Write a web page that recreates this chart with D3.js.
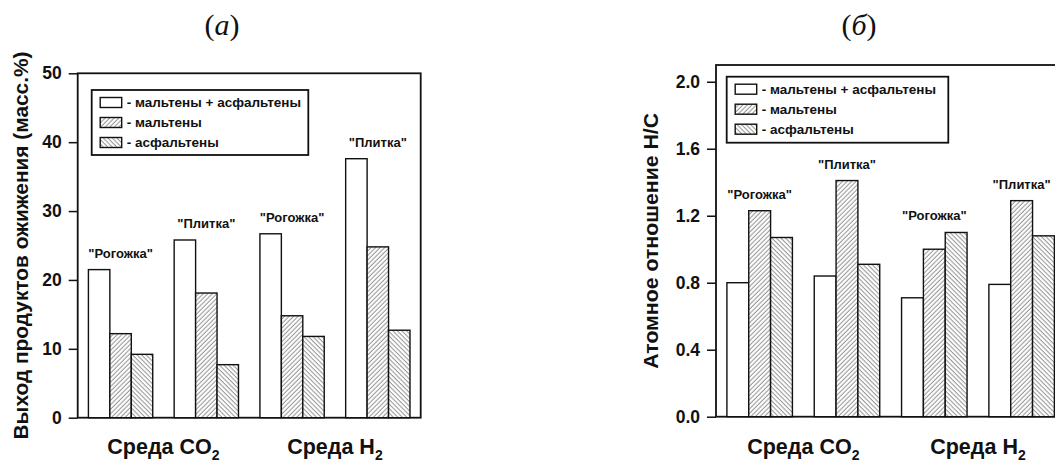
<!DOCTYPE html>
<html>
<head>
<meta charset="utf-8">
<script src="https://cdn.jsdelivr.net/npm/d3@7"></script>
<style>
  body { margin: 0; background: #fff; }
  text { font-family: "Liberation Sans", Arial, sans-serif; font-weight: bold; fill: #111; }
</style>
</head>
<body>
<div class="canva"></div>
<script>
// data
const samples = ['"Рогожка"', '"Плитка"', '"Рогожка"', '"Плитка"'];
const envLabels = ["Среда CO", "Среда H"];
const seriesNames = ["- мальтены + асфальтены", "- мальтены", "- асфальтены"];

const yieldTotal = [21.5, 25.8, 26.7, 37.6];
const yieldMaltenes = [12.2, 18.1, 14.8, 24.8];
const yieldAsphaltenes = [9.2, 7.7, 11.8, 12.7];
const yieldTicks = [0, 10, 20, 30, 40, 50];

const hcTotal = [0.80, 0.84, 0.71, 0.79];
const hcMaltenes = [1.23, 1.41, 1.00, 1.29];
const hcAsphaltenes = [1.07, 0.91, 1.10, 1.08];
const hcTicks = [0, 0.4, 0.8, 1.2, 1.6, 2.0];

const svg = d3.select(".canva").append("svg")
    .attr("width", 1055)
    .attr("height", 463);

// hatch patterns
const defs = svg.append("defs");
function hatch(id, angle) {
    const p = defs.append("pattern")
        .attr("id", id)
        .attr("patternUnits", "userSpaceOnUse")
        .attr("width", 3.2)
        .attr("height", 3.2)
        .attr("patternTransform", `rotate(${angle})`);
    p.append("rect").attr("width", 3.2).attr("height", 3.2).attr("fill", "#fff");
    p.append("line")
        .attr("x1", 1).attr("y1", 0).attr("x2", 1).attr("y2", 3.2)
        .attr("stroke", "#777").attr("stroke-width", 0.8);
}
hatch("fwd", 45);
hatch("back", -45);
const fills = ["#fff", "url(#fwd)", "url(#back)"];

function drawPanel(opts) {
    const { left, right, top, bottom, domain, ticks, fmt, values, title, titleX, yLabel, yLabelX, yLabelLen, legend } = opts;

    const g = svg.append("g");

    const x0 = d3.scaleBand()
        .domain(d3.range(samples.length))
        .range([left, right])
        .paddingInner(0.25)
        .paddingOuter(0.125);

    const x1 = d3.scaleBand()
        .domain(d3.range(seriesNames.length))
        .range([0, x0.bandwidth()]);

    const y = d3.scaleLinear()
        .domain(domain)
        .range([bottom, top]);

    // frame
    g.append("rect")
        .attr("x", left).attr("y", top)
        .attr("width", right - left).attr("height", bottom - top)
        .attr("fill", "none").attr("stroke", "#111").attr("stroke-width", 1.8);

    // y axis
    const yAxis = d3.axisLeft(y)
        .tickValues(ticks)
        .tickSize(9)
        .tickPadding(7)
        .tickFormat(fmt);
    const ax = g.append("g")
        .attr("transform", `translate(${left},0)`)
        .call(yAxis);
    ax.select(".domain").remove();
    ax.selectAll(".tick line").attr("stroke", "#111").attr("stroke-width", 1.5);
    ax.selectAll(".tick text")
        .style("font-size", "17.5px")
        .style("font-family", "'Liberation Sans', Arial, sans-serif")
        .style("font-weight", "bold")
        .attr("fill", "#111");

    // bars
    samples.forEach((s, i) => {
        const grp = g.append("g").attr("transform", `translate(${x0(i)},0)`);
        grp.selectAll("rect")
            .data(values.map(v => v[i]))
            .enter()
            .append("rect")
            .attr("x", (d, j) => x1(j))
            .attr("y", d => y(d))
            .attr("width", x1.bandwidth())
            .attr("height", d => bottom - y(d))
            .attr("fill", (d, j) => fills[j])
            .attr("stroke", "#111")
            .attr("stroke-width", 1.4);

        const maxV = d3.max(values, v => v[i]);
        g.append("text")
            .attr("x", x0(i) + x0.bandwidth() / 2)
            .attr("y", y(maxV) - 12)
            .attr("text-anchor", "middle")
            .style("font-size", "13px")
            .text(s);
    });

    // environment labels
    envLabels.forEach((lab, k) => {
        const cx = (x0(2 * k) + x0(2 * k + 1) + x0.bandwidth()) / 2;
        const t = g.append("text")
            .attr("x", cx)
            .attr("y", 454)
            .attr("text-anchor", "middle")
            .style("font-size", "21.5px");
        t.append("tspan").text(lab);
        t.append("tspan").attr("dy", 6).style("font-size", "14px").text("2");
    });

    // y label
    g.append("text")
        .attr("transform", `translate(${yLabelX},${(top + bottom) / 2}) rotate(-90)`)
        .attr("text-anchor", "middle")
        .attr("dominant-baseline", "central")
        .attr("textLength", yLabelLen)
        .attr("lengthAdjust", "spacingAndGlyphs")
        .style("font-size", "20px")
        .text(yLabel);

    // panel title
    const tt = g.append("text")
        .attr("x", titleX)
        .attr("y", 35)
        .attr("text-anchor", "middle")
        .style("font-family", "'Liberation Serif', 'Times New Roman', serif")
        .style("font-weight", "normal")
        .style("font-size", "30px");
    tt.append("tspan").text("(");
    tt.append("tspan").style("font-style", "italic").text(title);
    tt.append("tspan").text(")");

    // legend
    const lg = g.append("g");
    lg.append("rect")
        .attr("x", legend.x).attr("y", legend.y)
        .attr("width", legend.w).attr("height", legend.h)
        .attr("fill", "#fff").attr("stroke", "#111").attr("stroke-width", 1.8);
    seriesNames.forEach((name, j) => {
        const cy = legend.y + 12.5 + j * 20;
        lg.append("rect")
            .attr("x", legend.x + 8.5).attr("y", cy - 5)
            .attr("width", 21.5).attr("height", 10)
            .attr("fill", fills[j]).attr("stroke", "#111").attr("stroke-width", 1.4);
        lg.append("text")
            .attr("x", legend.x + 35)
            .attr("y", cy)
            .attr("dominant-baseline", "central")
            .style("font-size", "13.5px")
            .text(name);
    });
}

drawPanel({
    left: 77.7, right: 420.7, top: 73.3, bottom: 417.7,
    domain: [0, 50], ticks: yieldTicks, fmt: d3.format("d"),
    values: [yieldTotal, yieldMaltenes, yieldAsphaltenes],
    title: "а", titleX: 222,
    yLabel: "Выход продуктов ожижения (масс.%)", yLabelX: 21, yLabelLen: 388,
    legend: { x: 91.7, y: 90, w: 216.6, h: 65 }
});

drawPanel({
    left: 716, right: 1065.3, top: 65, bottom: 416.7,
    domain: [0, 2.1], ticks: hcTicks, fmt: d3.format(".1f"),
    values: [hcTotal, hcMaltenes, hcAsphaltenes],
    title: "б", titleX: 859,
    yLabel: "Атомное отношение H/C", yLabelX: 651, yLabelLen: 256,
    legend: { x: 726.7, y: 76.7, w: 221.6, h: 66 }
});
</script>
</body>
</html>
